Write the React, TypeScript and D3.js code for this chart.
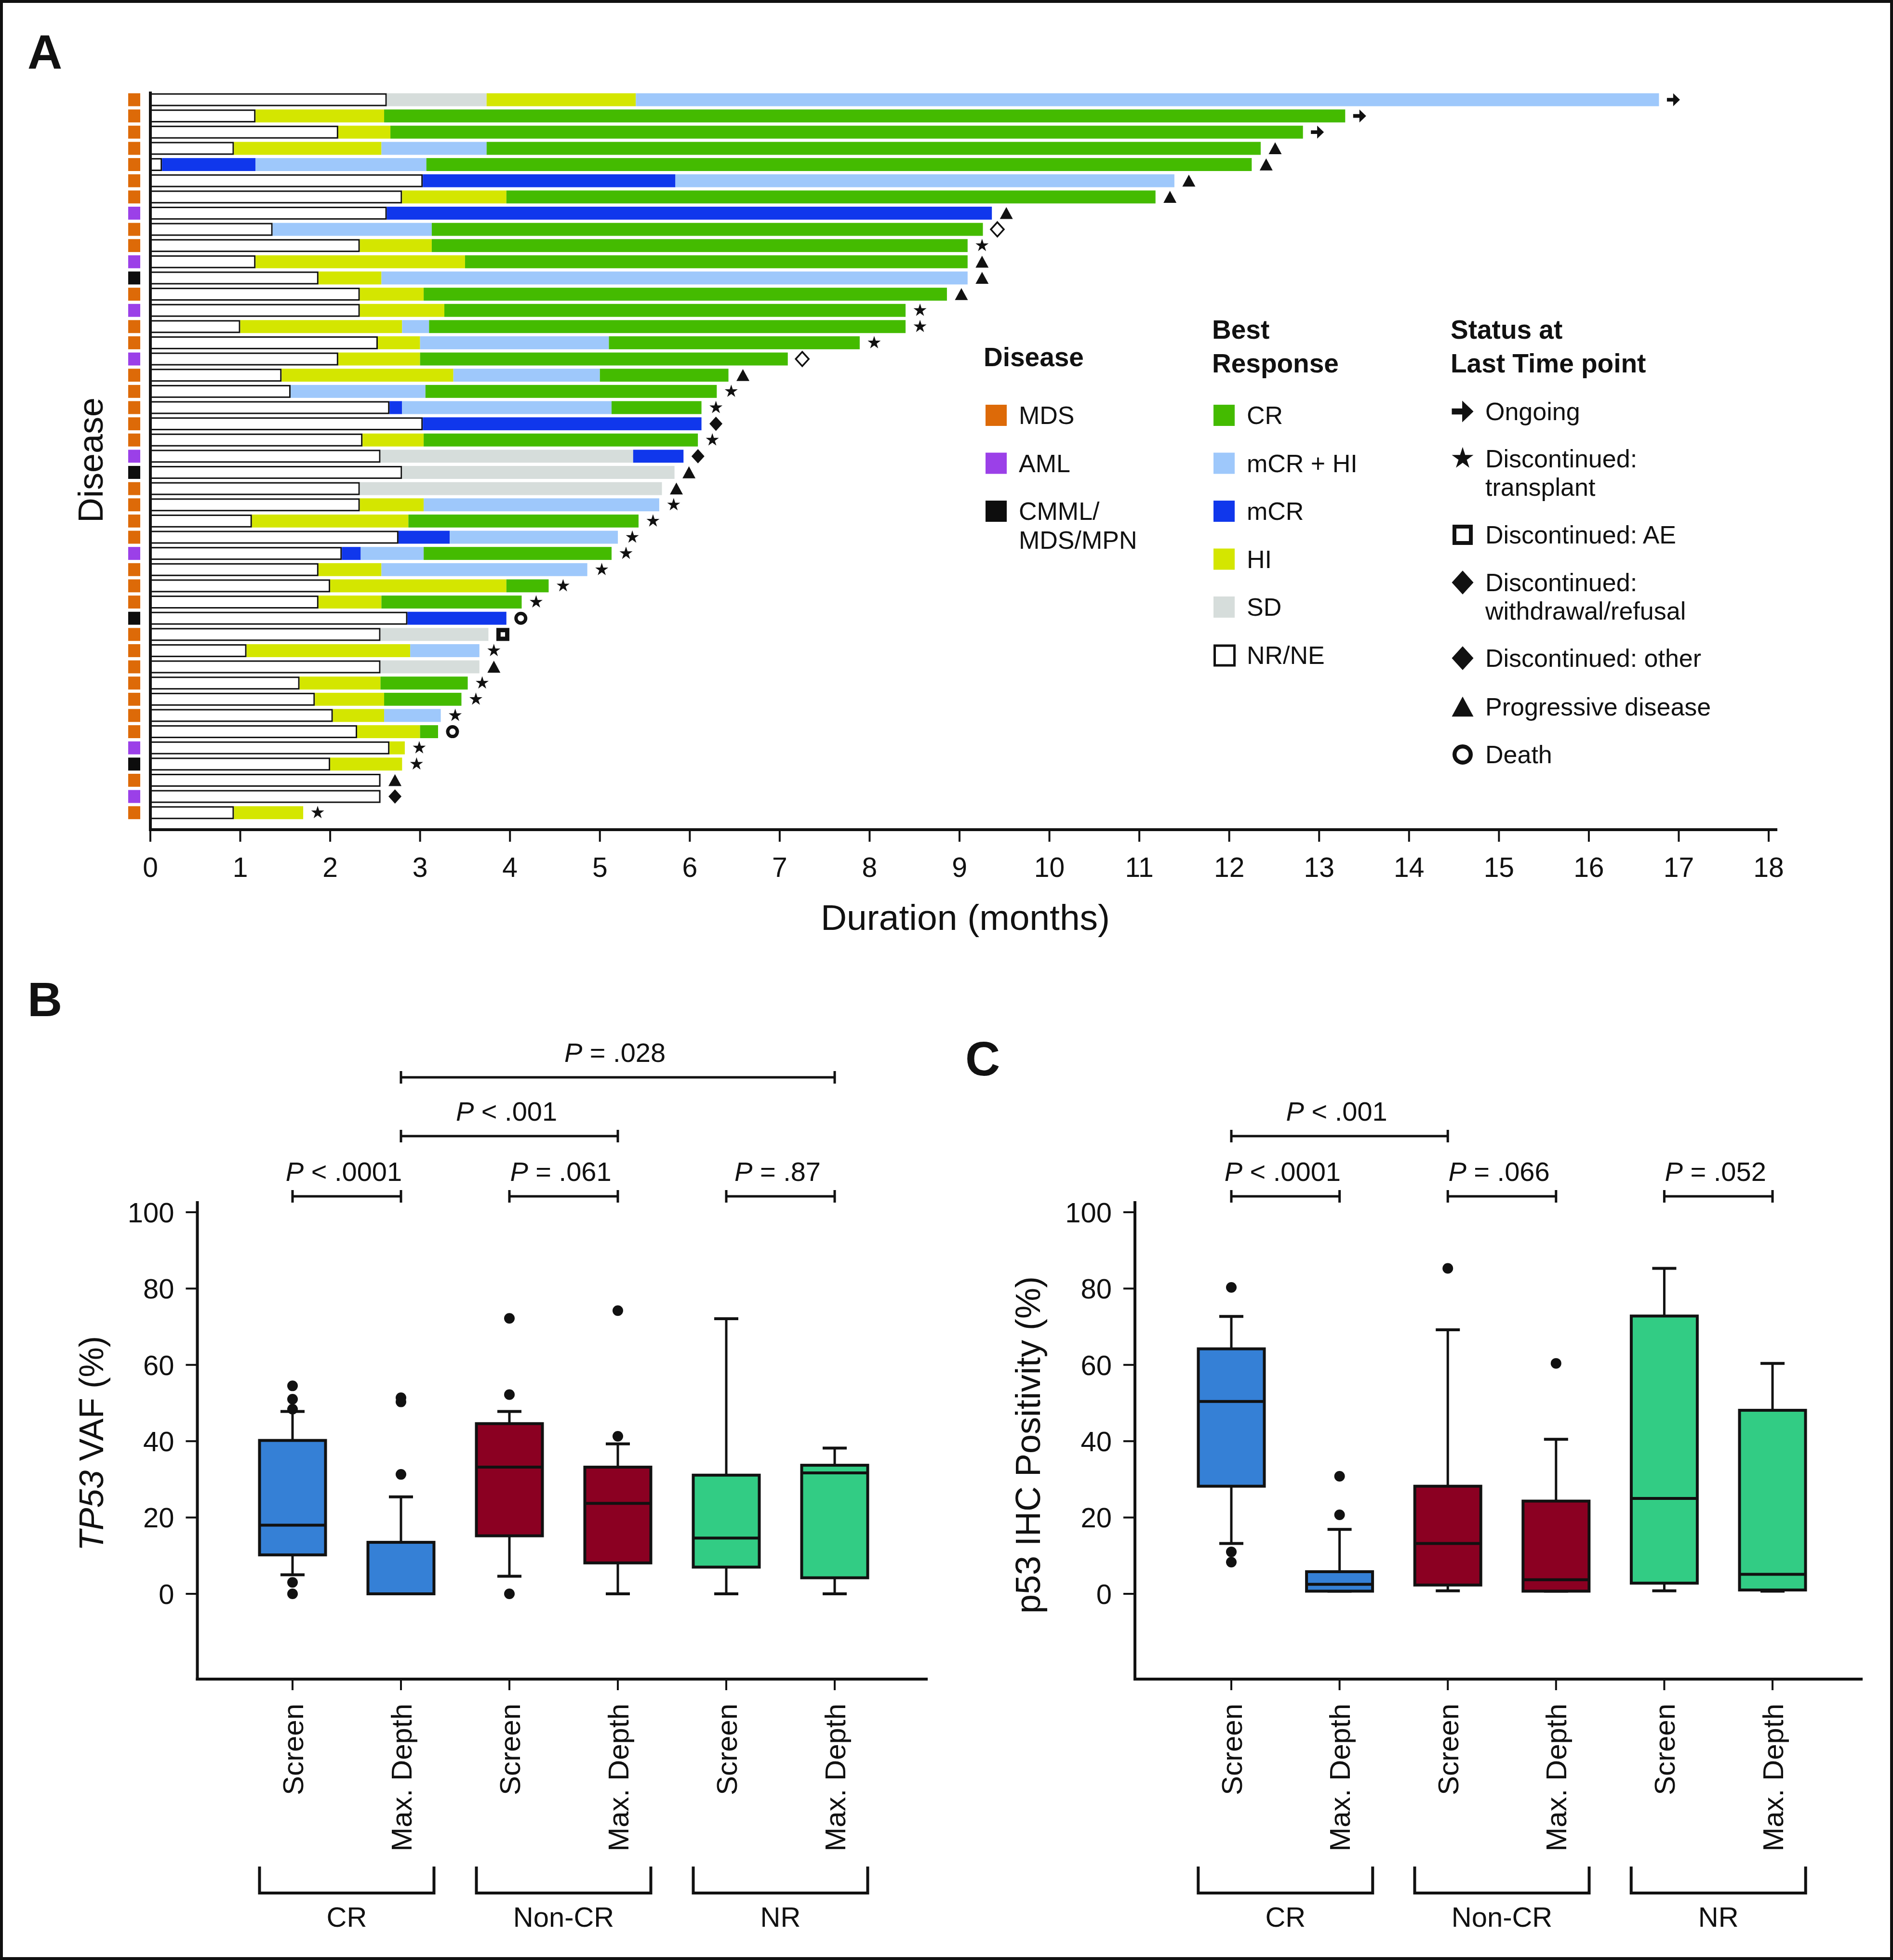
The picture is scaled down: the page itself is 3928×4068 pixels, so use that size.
import React from 'react';
import * as d3 from 'd3';

const FONT = "'Liberation Sans', Arial, Helvetica, sans-serif";
const W = 3928;
const H = 4068;

// ---------------- Panel A data ----------------
const monthTicks = d3.range(0, 19);

const rowDisease = [
  'MDS', 'MDS', 'MDS', 'MDS', 'MDS', 'MDS', 'MDS', 'AML', 'MDS', 'MDS',
  'AML', 'CMML', 'MDS', 'AML', 'MDS', 'MDS', 'AML', 'MDS', 'MDS', 'MDS',
  'MDS', 'MDS', 'AML', 'CMML', 'MDS', 'MDS', 'MDS', 'MDS', 'AML', 'MDS',
  'MDS', 'MDS', 'CMML', 'MDS', 'MDS', 'MDS', 'MDS', 'MDS', 'MDS', 'MDS',
  'AML', 'CMML', 'MDS', 'AML', 'MDS',
];

const rowStatus = [
  'arrow', 'arrow', 'arrow', 'tri', 'tri', 'tri', 'tri', 'tri', 'openDiamond', 'star',
  'tri', 'tri', 'tri', 'star', 'star', 'star', 'openDiamond', 'tri', 'star', 'star',
  'diamond', 'star', 'diamond', 'tri', 'tri', 'star', 'star', 'star', 'star', 'star',
  'star', 'star', 'circle', 'square', 'star', 'tri', 'star', 'star', 'star', 'circle',
  'star', 'star', 'tri', 'diamond', 'star',
];

// each row: [response, end month] in order, starting at 0
const rowSegments: [string, number][][] = [
  [['NR', 2.63], ['SD', 3.74], ['HI', 5.40], ['mCRHI', 16.78]],
  [['NR', 1.17], ['HI', 2.60], ['CR', 13.29]],
  [['NR', 2.09], ['HI', 2.67], ['CR', 12.82]],
  [['NR', 0.93], ['HI', 2.57], ['mCRHI', 3.74], ['CR', 12.35]],
  [['NR', 0.13], ['mCR', 1.17], ['mCRHI', 3.07], ['CR', 12.25]],
  [['NR', 3.03], ['mCR', 5.84], ['mCRHI', 11.39]],
  [['NR', 2.80], ['HI', 3.96], ['CR', 11.18]],
  [['NR', 2.63], ['mCR', 9.36]],
  [['NR', 1.36], ['mCRHI', 3.13], ['CR', 9.26]],
  [['NR', 2.33], ['HI', 3.13], ['CR', 9.09]],
  [['NR', 1.17], ['HI', 3.50], ['CR', 9.09]],
  [['NR', 1.87], ['HI', 2.57], ['mCRHI', 9.09]],
  [['NR', 2.33], ['HI', 3.04], ['CR', 8.86]],
  [['NR', 2.33], ['HI', 3.27], ['CR', 8.40]],
  [['NR', 1.00], ['HI', 2.80], ['mCRHI', 3.10], ['CR', 8.40]],
  [['NR', 2.53], ['HI', 3.00], ['mCRHI', 5.10], ['CR', 7.89]],
  [['NR', 2.09], ['HI', 3.00], ['CR', 7.09]],
  [['NR', 1.46], ['HI', 3.37], ['mCRHI', 5.00], ['CR', 6.43]],
  [['NR', 1.56], ['mCRHI', 3.06], ['CR', 6.30]],
  [['NR', 2.66], ['mCR', 2.80], ['mCRHI', 5.13], ['CR', 6.13]],
  [['NR', 3.03], ['mCR', 6.13]],
  [['NR', 2.36], ['HI', 3.04], ['CR', 6.09]],
  [['NR', 2.56], ['SD', 5.37], ['mCR', 5.93]],
  [['NR', 2.80], ['SD', 5.83]],
  [['NR', 2.33], ['SD', 5.69]],
  [['NR', 2.33], ['HI', 3.04], ['mCRHI', 5.66]],
  [['NR', 1.13], ['HI', 2.87], ['CR', 5.43]],
  [['NR', 2.76], ['mCR', 3.33], ['mCRHI', 5.20]],
  [['NR', 2.13], ['mCR', 2.34], ['mCRHI', 3.04], ['CR', 5.13]],
  [['NR', 1.87], ['HI', 2.57], ['mCRHI', 4.86]],
  [['NR', 2.00], ['HI', 3.96], ['CR', 4.43]],
  [['NR', 1.87], ['HI', 2.57], ['CR', 4.13]],
  [['NR', 2.86], ['mCR', 3.96]],
  [['NR', 2.56], ['SD', 3.76]],
  [['NR', 1.07], ['HI', 2.89], ['mCRHI', 3.66]],
  [['NR', 2.56], ['SD', 3.66]],
  [['NR', 1.66], ['HI', 2.56], ['CR', 3.53]],
  [['NR', 1.83], ['HI', 2.60], ['CR', 3.46]],
  [['NR', 2.03], ['HI', 2.60], ['mCRHI', 3.23]],
  [['NR', 2.30], ['HI', 3.00], ['CR', 3.20]],
  [['NR', 2.66], ['HI', 2.83]],
  [['NR', 2.00], ['HI', 2.80]],
  [['NR', 2.56]],
  [['NR', 2.56]],
  [['NR', 0.93], ['HI', 1.70]],
];

const diseaseLegend = [
  { key: 'MDS', lines: ['MDS'] },
  { key: 'AML', lines: ['AML'] },
  { key: 'CMML', lines: ['CMML/', 'MDS/MPN'] },
];
const responseLegend = [
  { key: 'CR', label: 'CR' },
  { key: 'mCRHI', label: 'mCR + HI' },
  { key: 'mCR', label: 'mCR' },
  { key: 'HI', label: 'HI' },
  { key: 'SD', label: 'SD' },
  { key: 'NR', label: 'NR/NE' },
];
const statusLegend = [
  { key: 'arrow', lines: ['Ongoing'] },
  { key: 'star', lines: ['Discontinued:', 'transplant'] },
  { key: 'square', lines: ['Discontinued: AE'] },
  { key: 'diamond', lines: ['Discontinued:', 'withdrawal/refusal'] },
  { key: 'diamond', lines: ['Discontinued: other'] },
  { key: 'tri', lines: ['Progressive disease'] },
  { key: 'circle', lines: ['Death'] },
];

// ---------------- Panels B / C data ----------------
const boxCategories = ['Screen', 'Max. Depth', 'Screen', 'Max. Depth', 'Screen', 'Max. Depth'];
const boxGroups = ['CR', 'Non-CR', 'NR'];
const valueTicks = [0, 20, 40, 60, 80, 100];

// TP53 VAF (%)
const vafLow = [5.0, 0, 4.6, 0, 0, 0];
const vafQ1 = [10.2, 0, 15.2, 8.1, 7.0, 4.2];
const vafMedian = [18.0, 0, 33.2, 23.7, 14.6, 31.7];
const vafQ3 = [40.2, 13.5, 44.6, 33.2, 31.1, 33.7];
const vafHigh = [47.8, 25.4, 47.8, 39.3, 72.1, 38.2];
const vafOutliers = [[54.5, 51.0, 48.4, 3.0, 0], [51.4, 50.3, 31.3], [72.2, 52.2, 0], [74.2, 41.3], [], []];
const vafPValues: [number, number, string, string, number][] = [
  [0, 1, '<', '.0001', 0],
  [2, 3, '=', '.061', 0],
  [4, 5, '=', '.87', 0],
  [1, 3, '<', '.001', 1],
  [1, 5, '=', '.028', 2],
];

// p53 IHC positivity (%)
const ihcLow = [13.2, 0.7, 0.8, 0.7, 0.8, 0.7];
const ihcQ1 = [28.2, 0.7, 2.3, 0.7, 2.8, 1.0];
const ihcMedian = [50.4, 2.5, 13.2, 3.7, 25.0, 5.1];
const ihcQ3 = [64.2, 5.8, 28.2, 24.3, 72.8, 48.1];
const ihcHigh = [72.7, 16.9, 69.2, 40.5, 85.3, 60.4];
const ihcOutliers = [[80.3, 11.0, 8.3], [20.7, 30.8], [85.3], [60.4], [], []];
const ihcPValues: [number, number, string, string, number][] = [
  [0, 1, '<', '.0001', 0],
  [2, 3, '=', '.066', 0],
  [4, 5, '=', '.052', 0],
  [0, 2, '<', '.001', 1],
];

// ---------------- styles ----------------
const responseColor: Record<string, string> = {
  CR: '#44bb00',
  mCRHI: '#9ec8fb',
  mCR: '#1037ec',
  HI: '#d4e600',
  SD: '#d6dddb',
  NR: '#ffffff',
};
const diseaseColor: Record<string, string> = {
  MDS: '#dd6a08',
  AML: '#9b40e8',
  CMML: '#0d0d0d',
};
const groupColor = ['#3580d6', '#8b0022', '#32cc84'];

function markerPath(type: string, s: number): string {
  const h = s / 2;
  if (type === 'arrow') {
    return `M${-h},${-0.14 * s}H${-0.02 * s}V${-h}L${h},0L${-0.02 * s},${h}V${0.14 * s}H${-h}Z`;
  }
  if (type === 'star') {
    const r = s / 1.902;
    const area = (r * r) / 0.8908130915292852;
    return d3.symbol(d3.symbolStar, area)() as string;
  }
  if (type === 'tri') {
    return `M0,${-0.47 * s}L${h},${0.45 * s}L${-h},${0.45 * s}Z`;
  }
  // diamond
  return `M0,${-0.55 * s}L${0.5 * s},0L0,${0.55 * s}L${-0.5 * s},0Z`;
}

function Marker({ type, x, y, s, legend }: { type: string; x: number; y: number; s: number; legend?: boolean }) {
  if (type === 'circle') {
    const sw = s * (legend ? 0.2 : 0.26);
    return <circle cx={x} cy={y} r={s / 2 - sw / 2} fill="none" stroke="#111" strokeWidth={sw} />;
  }
  if (type === 'square') {
    const sw = s * (legend ? 0.19 : 0.33);
    const inner = s - sw;
    return (
      <rect x={x - inner / 2} y={y - inner / 2} width={inner} height={inner} fill="#fff" stroke="#111" strokeWidth={sw} />
    );
  }
  if (type === 'openDiamond') {
    return <path d={markerPath('diamond', s)} transform={`translate(${x},${y})`} fill="#fff" stroke="#111" strokeWidth={3.5} />;
  }
  return <path d={markerPath(type, s)} transform={`translate(${x},${y})`} fill="#111" />;
}

function PanelA() {
  const x = d3.scaleLinear().domain([0, 18]).range([312, 3670]);
  const y = d3
    .scaleBand<number>()
    .domain(d3.range(rowSegments.length))
    .range([190.2, 190.2 + 33.63 * rowSegments.length])
    .paddingInner(0.2)
    .paddingOuter(0.1);
  const bw = y.bandwidth();
  const axisY = 1722;

  return (
    <g>
      {/* disease strip */}
      {rowDisease.map((d, i) => (
        <rect key={'d' + i} x={266} y={y(i)} width={25} height={bw} fill={diseaseColor[d]} />
      ))}
      {/* bars */}
      {rowSegments.map((segs, i) => {
        let prev = 0;
        const yy = y(i) as number;
        const items = segs.map(([r, end], k) => {
          const x0 = x(prev);
          const x1 = x(end);
          prev = end;
          if (r === 'NR') {
            return (
              <rect key={k} x={x0 + 1.5} y={yy + 1.5} width={x1 - x0 - 3} height={bw - 3} fill="#fff" stroke="#111" strokeWidth={3} />
            );
          }
          return <rect key={k} x={x0} y={yy} width={x1 - x0} height={bw} fill={responseColor[r]} />;
        });
        const last = segs[segs.length - 1][1];
        return (
          <g key={'r' + i}>
            {items}
            <Marker type={rowStatus[i]} x={x(last) + 30} y={yy + bw / 2} s={27} />
          </g>
        );
      })}
      {/* axes */}
      <line x1={312} x2={312} y1={190} y2={axisY + 3} stroke="#111" strokeWidth={6} />
      <line x1={309} x2={x(18) + 18} y1={axisY} y2={axisY} stroke="#111" strokeWidth={6} />
      {monthTicks.map((t) => (
        <g key={'t' + t}>
          <line x1={x(t)} x2={x(t)} y1={axisY} y2={axisY + 25} stroke="#111" strokeWidth={4} />
          <text x={x(t)} y={1820} textAnchor="middle" fontSize={57} fontFamily={FONT} fill="#111">
            {t}
          </text>
        </g>
      ))}
      <text x={2003} y={1930} textAnchor="middle" fontSize={75} fontFamily={FONT} fill="#111">
        Duration (months)
      </text>
      <text transform="translate(213,955) rotate(-90)" textAnchor="middle" fontSize={72} fontFamily={FONT} fill="#111">
        Disease
      </text>

      {/* legend: disease */}
      <text x={2041} y={760} fontSize={55} fontWeight="bold" fontFamily={FONT} fill="#111">
        Disease
      </text>
      {diseaseLegend.map((d, i) => {
        const base = 880 + i * 99.5;
        return (
          <g key={'dl' + i}>
            <rect x={2045} y={base - 40} width={44} height={44} fill={diseaseColor[d.key]} />
            {d.lines.map((l, k) => (
              <text key={k} x={2114} y={base + k * 60} fontSize={52} fontFamily={FONT} fill="#111">
                {l}
              </text>
            ))}
          </g>
        );
      })}

      {/* legend: best response */}
      <text x={2515} y={703} fontSize={55} fontWeight="bold" fontFamily={FONT} fill="#111">
        Best
      </text>
      <text x={2515} y={773} fontSize={55} fontWeight="bold" fontFamily={FONT} fill="#111">
        Response
      </text>
      {responseLegend.map((d, i) => {
        const base = 880 + i * 99.5;
        const nr = d.key === 'NR';
        return (
          <g key={'rl' + i}>
            {nr ? (
              <rect x={2520.5} y={base - 37.5} width={41} height={41} fill="#fff" stroke="#111" strokeWidth={5} />
            ) : (
              <rect x={2518} y={base - 40} width={44} height={44} fill={responseColor[d.key]} />
            )}
            <text x={2587} y={base} fontSize={52} fontFamily={FONT} fill="#111">
              {d.label}
            </text>
          </g>
        );
      })}

      {/* legend: status */}
      <text x={3010} y={703} fontSize={55} fontWeight="bold" fontFamily={FONT} fill="#111">
        Status at
      </text>
      <text x={3010} y={773} fontSize={55} fontWeight="bold" fontFamily={FONT} fill="#111">
        Last Time point
      </text>
      {(() => {
        const bases = [872, 969.5, 1128, 1227, 1384, 1485, 1584];
        return statusLegend.map((d, i) => (
          <g key={'sl' + i}>
            <Marker
              type={d.key}
              x={3035}
              y={bases[i] - 18}
              s={d.key === 'square' || d.key === 'circle' ? 42 : 45}
              legend
            />
            {d.lines.map((l, k) => (
              <text key={k} x={3082} y={bases[i] + k * 59} fontSize={52} fontFamily={FONT} fill="#111">
                {l}
              </text>
            ))}
          </g>
        ));
      })()}
    </g>
  );
}

type BoxProps = {
  axisX: number;
  xRange: [number, number];
  axisRight: number;
  low: number[];
  q1: number[];
  med: number[];
  q3: number[];
  high: number[];
  outliers: number[][];
  pvals: [number, number, string, string, number][];
  label: React.ReactNode;
};

function BoxPanel(p: BoxProps) {
  const x = d3.scalePoint<number>().domain(d3.range(boxCategories.length)).range(p.xRange);
  const y = d3.scaleLinear().domain([0, 100]).range([3308, 2516]);
  const bottom = 3485;
  const bw = 137;
  const cap = 50;
  const pLevels = [2483, 2358, 2236];

  return (
    <g fontFamily={FONT} fill="#111">
      {/* axes */}
      <line x1={p.axisX} x2={p.axisX} y1={2493} y2={bottom + 3} stroke="#111" strokeWidth={6} />
      <line x1={p.axisX - 3} x2={p.axisRight} y1={bottom} y2={bottom} stroke="#111" strokeWidth={6} />
      {valueTicks.map((t) => (
        <g key={'vt' + t}>
          <line x1={p.axisX - 24} x2={p.axisX} y1={y(t)} y2={y(t)} stroke="#111" strokeWidth={4} />
          <text x={p.axisX - 48} y={y(t)} dy="0.36em" textAnchor="end" fontSize={58}>
            {t}
          </text>
        </g>
      ))}
      {boxCategories.map((c, i) => (
        <g key={'c' + i}>
          <line x1={x(i)} x2={x(i)} y1={bottom} y2={bottom + 23} stroke="#111" strokeWidth={4} />
          <text transform={`translate(${x(i)},3536) rotate(-90)`} dy="0.36em" textAnchor="end" fontSize={60}>
            {c}
          </text>
        </g>
      ))}
      {/* groups */}
      {boxGroups.map((g, gi) => {
        const cx = ((x(gi * 2) as number) + (x(gi * 2 + 1) as number)) / 2;
        return (
          <g key={'g' + gi}>
            <path
              d={`M${cx - 181},3874V3929H${cx + 181}V3874`}
              fill="none"
              stroke="#111"
              strokeWidth={6}
            />
            <text x={cx} y={3999} textAnchor="middle" fontSize={58}>
              {g}
            </text>
          </g>
        );
      })}
      {/* boxes */}
      {boxCategories.map((_, i) => {
        const cx = x(i) as number;
        const col = groupColor[Math.floor(i / 2)];
        return (
          <g key={'b' + i}>
            <line x1={cx} x2={cx} y1={y(p.low[i])} y2={y(p.q1[i])} stroke="#111" strokeWidth={5} />
            <line x1={cx} x2={cx} y1={y(p.q3[i])} y2={y(p.high[i])} stroke="#111" strokeWidth={5} />
            <line x1={cx - cap / 2} x2={cx + cap / 2} y1={y(p.low[i])} y2={y(p.low[i])} stroke="#111" strokeWidth={6} />
            <line x1={cx - cap / 2} x2={cx + cap / 2} y1={y(p.high[i])} y2={y(p.high[i])} stroke="#111" strokeWidth={6} />
            <rect
              x={cx - bw / 2}
              y={y(p.q3[i])}
              width={bw}
              height={Math.max(0, y(p.q1[i]) - y(p.q3[i]))}
              fill={col}
              stroke="#111"
              strokeWidth={6}
            />
            <line x1={cx - bw / 2} x2={cx + bw / 2} y1={y(p.med[i])} y2={y(p.med[i])} stroke="#111" strokeWidth={6} />
            {p.outliers[i].map((o, k) => (
              <ellipse key={k} cx={cx} cy={y(o)} rx={11} ry={11} fill="#111" />
            ))}
          </g>
        );
      })}
      {/* p-value brackets */}
      {p.pvals.map(([a, b, op, v, lvl], k) => {
        const x1 = x(a) as number;
        const x2 = x(b) as number;
        const ly = pLevels[lvl];
        return (
          <g key={'p' + k}>
            <path
              d={`M${x1},${ly - 13}V${ly + 13}M${x1},${ly}H${x2}M${x2},${ly - 13}V${ly + 13}`}
              fill="none"
              stroke="#111"
              strokeWidth={5}
            />
            <text x={(x1 + x2) / 2 - 6} y={ly - 32} textAnchor="middle" fontSize={56}>
              <tspan fontStyle="italic">P</tspan>
              {` ${op} ${v}`}
            </text>
          </g>
        );
      })}
      {p.label}
    </g>
  );
}

export default function App() {
  return (
    <svg
      width={W}
      height={H}
      viewBox={`0 0 ${W} ${H}`}
      style={{ position: 'absolute', left: 0, top: 0, background: '#fff' }}
    >
      <rect x={0} y={0} width={W} height={H} fill="#fff" />
      <rect x={3} y={3} width={W - 6} height={H - 6} fill="none" stroke="#111" strokeWidth={6} />
      <text x={57} y={143} fontSize={100} fontWeight="bold" fontFamily={FONT} fill="#111">A</text>
      <text x={57} y={2109} fontSize={100} fontWeight="bold" fontFamily={FONT} fill="#111">B</text>
      <text x={2003} y={2232} fontSize={100} fontWeight="bold" fontFamily={FONT} fill="#111">C</text>
      <PanelA />
      <BoxPanel
        axisX={409.5}
        xRange={[607, 1732]}
        axisRight={1925}
        low={vafLow}
        q1={vafQ1}
        med={vafMedian}
        q3={vafQ3}
        high={vafHigh}
        outliers={vafOutliers}
        pvals={vafPValues}
        label={
          <text transform="translate(214,2996) rotate(-90)" textAnchor="middle" fontSize={70}>
            <tspan fontStyle="italic">TP53</tspan> VAF (%)
          </text>
        }
      />
      <BoxPanel
        axisX={2355}
        xRange={[2555, 3678]}
        axisRight={3865}
        low={ihcLow}
        q1={ihcQ1}
        med={ihcMedian}
        q3={ihcQ3}
        high={ihcHigh}
        outliers={ihcOutliers}
        pvals={ihcPValues}
        label={
          <text transform="translate(2158,2999) rotate(-90)" textAnchor="middle" fontSize={72}>
            p53 IHC Positivity (%)
          </text>
        }
      />
    </svg>
  );
}
